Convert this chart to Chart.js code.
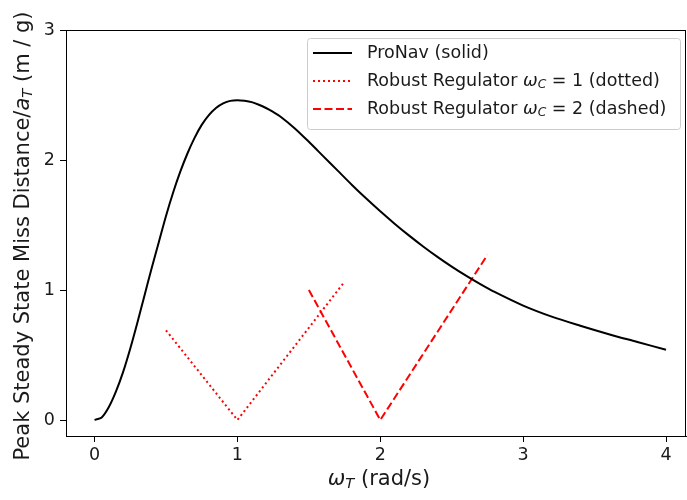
<!DOCTYPE html>
<html>
<head>
<meta charset="utf-8">
<script src="https://cdn.jsdelivr.net/npm/chart.js@4"></script>
<style>
  html, body { margin: 0; padding: 0; background: #fff; }
  #wrap { width: 687px; height: 500px; }
</style>
</head>
<body>
<div id="wrap"><canvas id="chart" width="687" height="500"></canvas></div>
<script>
// ProNav peak miss distance
const proNavW = [0, 0.05, 0.1, 0.15, 0.2, 0.25, 0.3, 0.35, 0.4, 0.45, 0.5, 0.55, 0.6, 0.65, 0.7, 0.75,
  0.8, 0.85, 0.9, 0.95, 1.0, 1.05, 1.1, 1.15, 1.2, 1.25, 1.3, 1.4, 1.5, 1.6, 1.7, 1.8, 1.9, 2.0,
  2.1, 2.2, 2.3, 2.4, 2.5, 2.6, 2.7, 2.8, 3.0, 3.2, 3.4, 3.6, 3.8, 4.0];
const proNavMiss = [0, 0.02, 0.1, 0.22, 0.37, 0.55, 0.75, 0.96, 1.17, 1.37, 1.57, 1.75, 1.91, 2.05, 2.17, 2.27,
  2.345, 2.40, 2.435, 2.455, 2.46, 2.455, 2.445, 2.425, 2.40, 2.37, 2.335, 2.245, 2.14, 2.03, 1.92, 1.81, 1.705, 1.605,
  1.51, 1.42, 1.335, 1.255, 1.18, 1.11, 1.045, 0.985, 0.88, 0.795, 0.725, 0.66, 0.60, 0.54];

// robust regulator, wc = 1 (dotted) and wc = 2 (dashed)
const rr1W = [0.5, 1.0, 1.74];
const rr1Miss = [0.69, 0, 1.05];
const rr2W = [1.5, 2.0, 2.75];
const rr2Miss = [1.0, 0, 1.27];

const xTicks = [0, 1, 2, 3, 4];
const yTicks = [0, 1, 2, 3];

const FONT = "'DejaVu Sans', sans-serif";

const toPoints = (xs, ys) => xs.map((x, i) => ({ x: x, y: ys[i] }));

// draw a run of text pieces, some italic / subscript (mathtext look)
const drawRich = (ctx, parts, x, y, size, align) => {
  const widths = parts.map((p) => {
    ctx.font = (p.it ? "italic " : "") + (p.sub ? size * 0.7 : size) + "px " + FONT;
    return ctx.measureText(p.t).width;
  });
  const total = widths.reduce((a, b) => a + b, 0);
  let cx = align === "center" ? x - total / 2 : x;
  ctx.textAlign = "left";
  ctx.textBaseline = "middle";
  parts.forEach((p, i) => {
    ctx.font = (p.it ? "italic " : "") + (p.sub ? size * 0.7 : size) + "px " + FONT;
    ctx.fillText(p.t, cx, p.sub ? y + size * 0.22 : y);
    cx += widths[i];
  });
};

const legendRows = [
  { dash: [], parts: [{ t: "ProNav (solid)" }] },
  { dash: [2, 3], color: "#ff0000", parts: [{ t: "Robust Regulator " }, { t: "ω", it: true }, { t: "C", it: true, sub: true }, { t: " = 1 (dotted)" }] },
  { dash: [8, 3.5], color: "#ff0000", parts: [{ t: "Robust Regulator " }, { t: "ω", it: true }, { t: "C", it: true, sub: true }, { t: " = 2 (dashed)" }] },
];

const decor = {
  id: "decor",
  afterDraw(chart) {
    const ctx = chart.ctx;
    const a = chart.chartArea;
    ctx.save();
    // frame
    ctx.strokeStyle = "#000";
    ctx.lineWidth = 1;
    ctx.strokeRect(a.left + 0.5, a.top + 0.5, a.right - a.left - 1, a.bottom - a.top);

    ctx.fillStyle = "#1a1a1a";
    // x title
    drawRich(ctx, [{ t: "ω", it: true }, { t: "T", it: true, sub: true }, { t: " (rad/s)" }],
      379, 480, 21, "center");
    // y title
    ctx.save();
    ctx.translate(24, 236);
    ctx.rotate(-Math.PI / 2);
    drawRich(ctx, [{ t: "Peak Steady State Miss Distance/" }, { t: "a", it: true }, { t: "T", it: true, sub: true }, { t: " (m / g)" }],
      0, 0, 21, "center");
    ctx.restore();

    // legend
    const bx = 307, by = 38, bw = 373, bh = 91;
    ctx.fillStyle = "rgba(255,255,255,0.8)";
    ctx.strokeStyle = "#cccccc";
    ctx.lineWidth = 1;
    ctx.beginPath();
    ctx.roundRect(bx + 0.5, by + 0.5, bw, bh, 3);
    ctx.fill();
    ctx.stroke();
    legendRows.forEach((row, i) => {
      const ry = 53 + i * 28;
      ctx.strokeStyle = row.color || "#000";
      ctx.lineWidth = 2;
      ctx.setLineDash(row.dash);
      ctx.beginPath();
      ctx.moveTo(313, ry);
      ctx.lineTo(352, ry);
      ctx.stroke();
      ctx.setLineDash([]);
      ctx.fillStyle = "#1a1a1a";
      drawRich(ctx, row.parts, 367, ry, 17.5, "left");
    });
    ctx.restore();
  },
};

new Chart(document.getElementById("chart"), {
  type: "scatter",
  data: {
    datasets: [
      {
        label: "ProNav (solid)",
        data: toPoints(proNavW, proNavMiss),
        showLine: true,
        borderColor: "#000",
        borderWidth: 2,
        pointRadius: 0,
        tension: 0.3,
      },
      {
        label: "Robust Regulator wc = 1 (dotted)",
        data: toPoints(rr1W, rr1Miss),
        showLine: true,
        borderColor: "#ff0000",
        borderWidth: 2,
        borderDash: [2, 3],
        pointRadius: 0,
      },
      {
        label: "Robust Regulator wc = 2 (dashed)",
        data: toPoints(rr2W, rr2Miss),
        showLine: true,
        borderColor: "#ff0000",
        borderWidth: 2,
        borderDash: [8, 3.5],
        pointRadius: 0,
      },
    ],
  },
  options: {
    responsive: false,
    animation: false,
    layout: { padding: { top: 30, right: 1, left: 0, bottom: 0 } },
    plugins: { legend: { display: false }, tooltip: { enabled: false } },
    scales: {
      x: {
        type: "linear",
        min: -0.2,
        max: 4.14,
        afterBuildTicks: (s) => { s.ticks = xTicks.map((v) => ({ value: v })); },
        afterFit: (s) => { s.height = 64; },
        grid: { drawOnChartArea: false, drawTicks: true, tickLength: 6, color: "#000" },
        border: { color: "#000" },
        ticks: { color: "#1a1a1a", font: { family: FONT, size: 17.5 }, padding: 3, maxRotation: 0 },
      },
      y: {
        type: "linear",
        min: -0.123,
        max: 3,
        afterBuildTicks: (s) => { s.ticks = yTicks.map((v) => ({ value: v })); },
        afterFit: (s) => { s.width = 66; },
        grid: { drawOnChartArea: false, drawTicks: true, tickLength: 6, color: "#000" },
        border: { color: "#000" },
        ticks: { color: "#1a1a1a", font: { family: FONT, size: 17.5 }, padding: 5 },
      },
    },
  },
  plugins: [decor],
});
</script>
</body>
</html>
